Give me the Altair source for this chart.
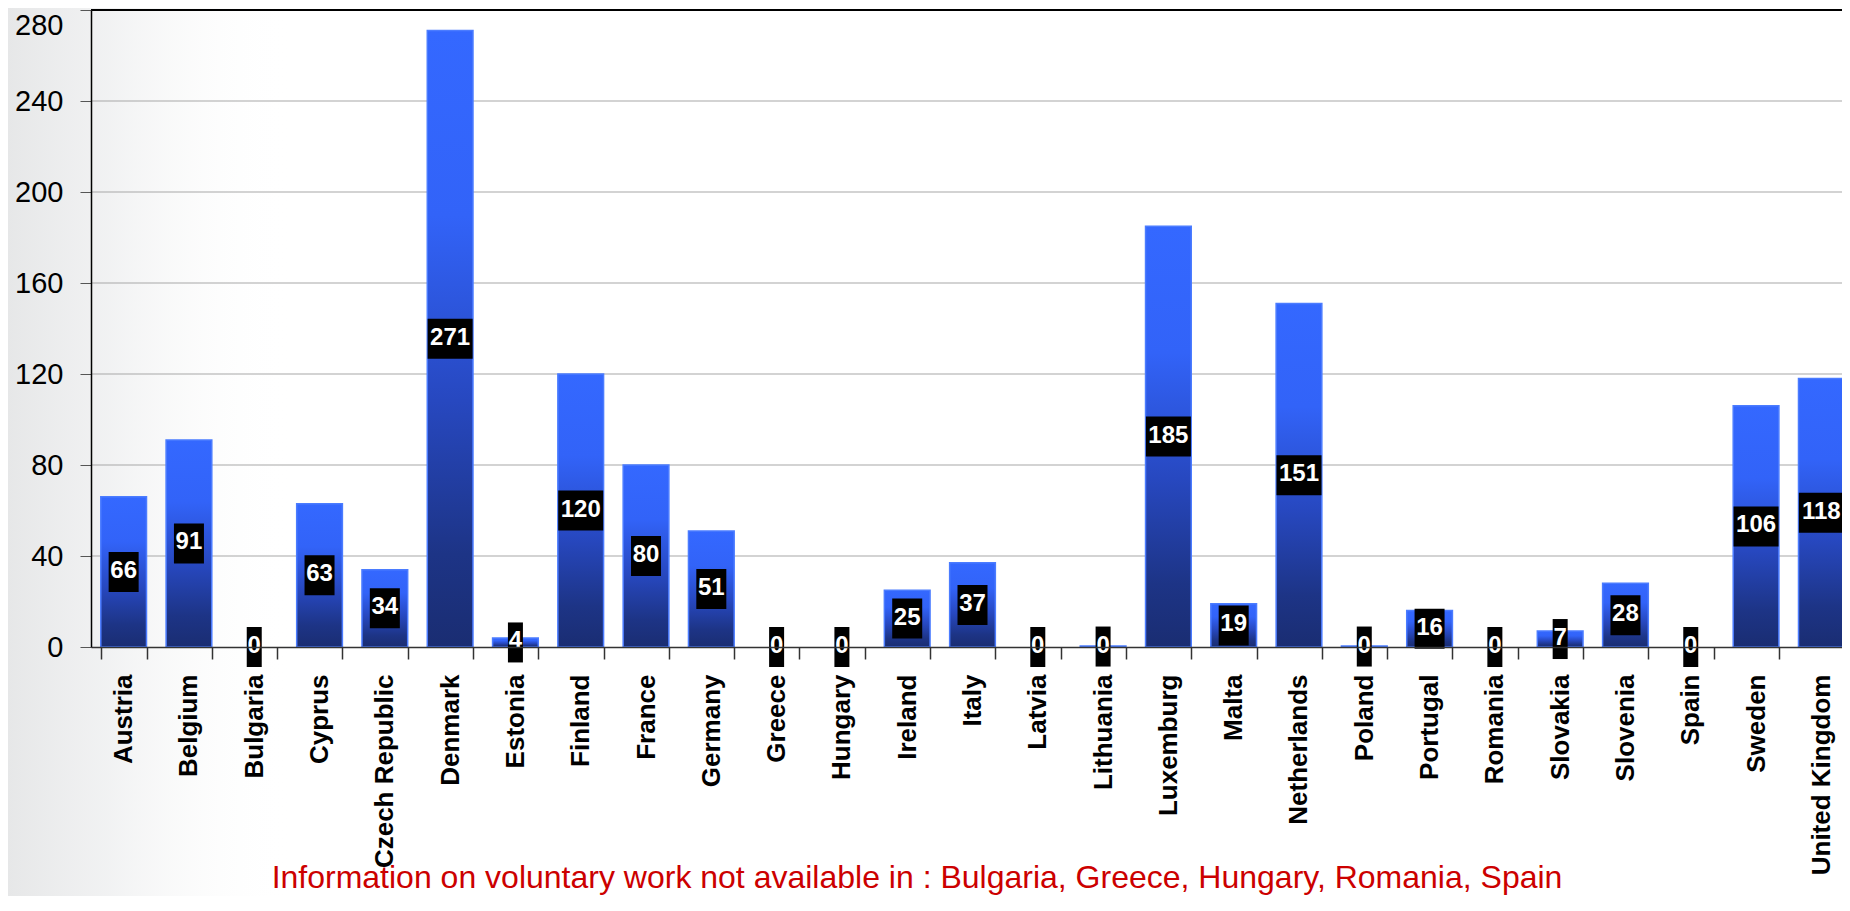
import altair as alt
import pandas as pd

countries = ["Austria", "Belgium", "Bulgaria", "Cyprus", "Czech Republic", "Denmark",
             "Estonia", "Finland", "France", "Germany", "Greece", "Hungary", "Ireland",
             "Italy", "Latvia", "Lithuania", "Luxemburg", "Malta", "Netherlands", "Poland",
             "Portugal", "Romania", "Slovakia", "Slovenia", "Spain", "Sweden", "United Kingdom"]
values = [66, 91, 0, 63, 34, 271, 4, 120, 80, 51, 0, 0, 25, 37, 0, 0.4, 185, 19, 151, 0.4,
          16, 0, 7, 28, 0, 106, 118]
y_ticks = [0, 40, 80, 120, 160, 200, 240, 280]
note = "Information on voluntary work not available in : Bulgaria, Greece, Hungary, Romania, Spain"

df = pd.DataFrame({"country": countries, "value": values})
note_df = pd.DataFrame({"note": [note]})
grid_df = pd.DataFrame({"tick": y_ticks[1:-1]})

FONT = "Liberation Sans Narrow, Arial Narrow, Liberation Sans, Arial, sans-serif"

W, H = 1751, 637
y_scale = alt.Scale(domain=[0, 280], nice=False, zero=True)

x_enc = alt.X(
    "country:N", sort=countries,
    scale=alt.Scale(range=[0, 1763], paddingInner=0.3, paddingOuter=0.15),
    axis=alt.Axis(title=None, labelAngle=-90, labelFont=FONT, labelFontSize=26,
                  labelFontWeight="bold", labelColor="black", labelPadding=15,
                  labelAlign="right", labelBaseline="middle", labelLimit=0,
                  tickSize=12, tickColor="#333333", tickWidth=1.5, tickBand="extent",
                  domainColor="#333333", domainWidth=1.5, grid=False, labelOverlap=False,
                  zindex=1),
)
y_enc = alt.Y(
    "value:Q", scale=y_scale,
    axis=alt.Axis(title=None, values=y_ticks, labelFont=FONT, labelFontSize=29,
                  labelColor="black", labelPadding=17, tickSize=11, tickColor="#555555",
                  domainColor="black", domainWidth=1.5, grid=False,
                  labelOverlap=False, labelLimit=0, zindex=1,
                  labelOffset=alt.expr("datum.value == 280 ? 15 : 0")),
)

base = alt.Chart(df).transform_calculate(
    half="datum.value / 2",
    label="format(round(datum.value), 'd')",
).transform_calculate(
    digits="length(datum.label)"
)

backdrop = alt.Chart(note_df).mark_rect(
    color=alt.Gradient(
        gradient="linear", x1=0, x2=1, y1=0, y2=0,
        stops=[alt.GradientStop(color="rgba(200,202,204,0.45)", offset=0),
               alt.GradientStop(color="rgba(215,217,219,0.35)", offset=0.35),
               alt.GradientStop(color="rgba(255,255,255,0)", offset=1)],
    )
).encode(x=alt.value(-83), x2=alt.value(200), y=alt.value(-2), y2=alt.value(886))

grid = alt.Chart(grid_df).mark_rule(color="#a8a8a8", strokeWidth=1.2).encode(
    y=alt.Y("tick:Q", scale=y_scale)
)

bars = base.transform_filter("datum.value > 0").mark_bar(
    color=alt.Gradient(
        gradient="linear", x1=0, x2=0, y1=0, y2=1,
        stops=[alt.GradientStop(color="#3468ff", offset=0),
               alt.GradientStop(color="#3263f8", offset=0.3),
               alt.GradientStop(color="#2748c0", offset=0.6),
               alt.GradientStop(color="#1d3486", offset=0.85),
               alt.GradientStop(color="#1a2d72", offset=1)],
    ),
    stroke="#4b7cff", strokeWidth=1.5,
).encode(x=x_enc, y=y_enc)

top_rule = alt.Chart(note_df).mark_rule(color="black", strokeWidth=2).encode(
    y=alt.datum(280, type="quantitative")
)

paths = ["M-0.375,-1L0.375,-1L0.375,1L-0.375,1Z",
         "M-0.75,-1L0.75,-1L0.75,1L-0.75,1Z",
         "M-1.125,-1L1.125,-1L1.125,1L-1.125,1Z"]

boxes = base.mark_point(filled=True, color="black", opacity=1, size=1600, strokeWidth=0).encode(
    x=x_enc,
    y=alt.Y("half:Q", scale=y_scale),
    shape=alt.Shape("digits:O", scale=alt.Scale(domain=[1, 2, 3], range=paths), legend=None),
)

labels = base.mark_text(font=FONT, fontSize=24, fontWeight="bold", color="white",
                        align="center", baseline="middle", dy=-1).encode(
    x=x_enc,
    y=alt.Y("half:Q", scale=y_scale),
    text="label:N",
)

note_text = alt.Chart(note_df).mark_text(font=FONT, fontSize=32, color="#cc0000",
                                          align="center", baseline="alphabetic").encode(
    x=alt.value(826), y=alt.value(878), text="note:N"
)

chart = alt.layer(backdrop, grid, bars, top_rule, boxes, labels, note_text).properties(
    width=W, height=H,
    autosize=alt.AutoSizeParams(type="none"),
    padding={"left": 83, "top": 2, "right": 0, "bottom": 249},
).configure(background="white").configure_view(stroke=None)

chart.save("out.html", embed_options={"renderer": "svg", "actions": False})
